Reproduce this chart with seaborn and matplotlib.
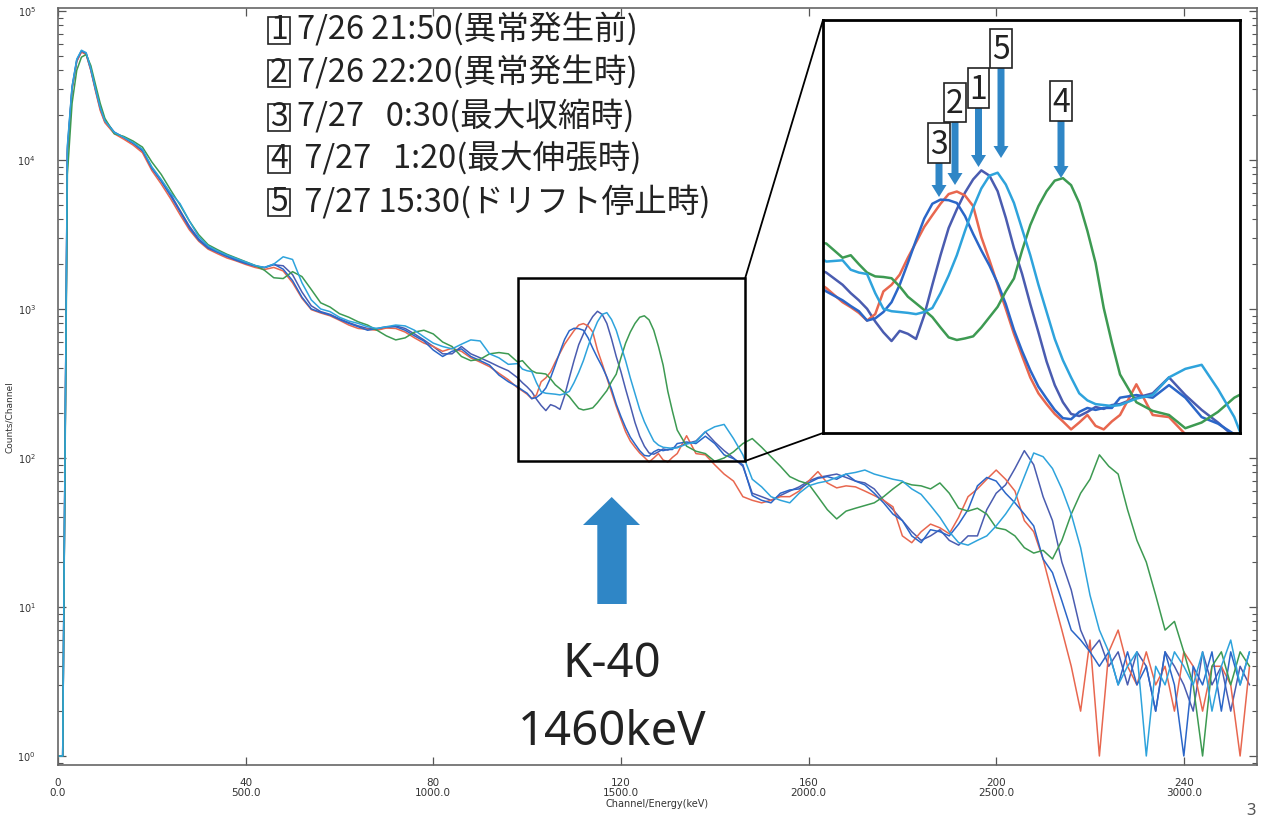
import matplotlib
matplotlib.use("Agg")
import matplotlib.pyplot as plt
import numpy as np
import pandas as pd
import seaborn as sns
from matplotlib.patches import ConnectionPatch, Polygon, Rectangle
from matplotlib.ticker import FixedLocator, LogLocator, NullFormatter, NullLocator

# channel grid the values were read at (1 ch = 12.5 keV); finer around the K-40 peak
channels = np.concatenate([np.arange(0, 11), np.arange(12, 99, 2),
                           np.arange(99, 132), np.arange(132, 255, 2)])

# 1: 7/26 21:50
counts_1 = [
    1, 1, 11000, 30000, 46000, 53500, 51500, 40000, 29500, 22000, 18000,
    15200, 14100, 12900, 11500, 8900, 7300, 5900, 4600, 3600, 2950, 2600, 2420, 2270, 2150, 2050, 1950, 1890,
    1980, 1950, 1700, 1300, 1050, 960, 920, 860,
    810, 770, 740, 730, 750, 770, 740, 680, 620, 560, 500, 500, 560, 500, 470, 440, 410, 385, 345,
    320, 300, 278, 248, 225, 208, 228, 222, 212, 262, 345, 450, 575, 680, 790, 890, 965, 920, 800, 630,
    480, 380, 290, 225, 173, 140, 120, 108, 106, 110, 115, 113, 117,
    118, 125, 130, 150, 128, 112, 100, 88,
    58, 55, 52, 56, 60, 64, 70, 74, 76, 78, 74, 70, 68, 62, 52, 45, 38, 32, 28, 30,
    33, 28, 26, 30, 30, 45, 58, 66, 85, 112, 90, 55, 38, 20, 13, 7, 5, 6, 4, 5,
    3, 5, 4, 2, 5, 4, 3, 2, 5, 3, 4, 2, 4, 3,
]
# 2: 7/26 22:20
counts_2 = [
    1, 1, 11500, 30000, 46000, 53000, 51000, 40000, 29000, 21500, 17800,
    15000, 13800, 12600, 11200, 8500, 6900, 5500, 4300, 3400, 2850, 2520, 2350, 2200, 2100, 1990, 1900, 1840,
    1900, 1800, 1500, 1180, 990, 940, 900, 840,
    780, 740, 730, 720, 745, 740, 700, 640, 590, 560, 520, 545, 520, 470, 440, 410, 370, 335, 295,
    282, 268, 250, 265, 325, 345, 378, 440, 505, 580, 645, 715, 780, 798, 770, 700, 530, 430, 345, 278,
    222, 182, 150, 130, 118, 108, 101, 94, 100, 107, 97, 94, 101,
    107, 141, 107, 105, 90, 78, 70, 55,
    52, 50, 52, 55, 55, 60, 70, 81, 68, 63, 65, 64, 60, 56, 52, 47, 30, 27, 32, 36,
    34, 31, 40, 55, 62, 72, 83, 72, 60, 38, 32, 21, 12, 7, 4, 2, 6, 1, 5, 7,
    4, 3, 5, 3, 4, 2, 5, 4, 2, 4, 4, 3, 1, 4,
]
# 3: 7/27 0:30
counts_3 = [
    1, 1, 12000, 31000, 47000, 54000, 52000, 41000, 30000, 22500, 18500,
    15400, 14200, 13000, 11600, 8800, 7200, 5750, 4500, 3500, 2900, 2560, 2400, 2250, 2120, 2020, 1940, 1900,
    2000, 1850, 1550, 1200, 1000, 950, 910, 850,
    800, 760, 720, 740, 760, 760, 720, 660, 610, 530, 480, 520, 540, 480, 450, 420, 360, 325, 300,
    285, 272, 250, 255, 270, 295, 345, 420, 515, 625, 715, 742, 738, 720, 640, 545, 470, 410, 350, 290,
    230, 190, 160, 138, 124, 112, 104, 103, 110, 114, 112, 114, 114,
    125, 128, 125, 140, 125, 105, 99, 90,
    56, 52, 50, 58, 61, 62, 68, 73, 75, 72, 78, 70, 66, 58, 50, 42, 38, 30, 27, 33,
    32, 30, 36, 45, 65, 74, 70, 58, 50, 42, 35, 21, 17, 11, 7, 6, 5, 4, 5, 3,
    5, 3, 4, 2, 5, 3, 1, 4, 3, 5, 2, 5, 3, 5,
]
# 4: 7/27 1:20
counts_4 = [
    1, 1, 8000, 24000, 40000, 49000, 51000, 43000, 32000, 24000, 19000,
    15000, 14400, 13400, 12200, 9700, 8000, 6300, 5000, 3900, 3150, 2700, 2500, 2330, 2200, 2080, 1960, 1820,
    1620, 1600, 1780, 1650, 1350, 1100, 1030, 930,
    880, 820, 780, 720, 660, 620, 640, 700, 720, 680, 600, 560, 480, 450, 460, 500, 510, 500, 440,
    450, 415, 385, 372, 370, 366, 340, 310, 292, 275, 258, 235, 215, 210, 213, 217, 235, 258, 283, 325,
    365, 470, 590, 700, 800, 880, 900, 845, 720, 560, 420, 280, 205,
    154, 120, 111, 107, 95, 100, 110, 125,
    135, 118, 102, 88, 75, 70, 67, 55, 45, 39, 44, 46, 48, 50, 55, 62, 69, 66, 65, 62,
    68, 58, 46, 44, 46, 42, 34, 33, 30, 25, 23, 24, 21, 28, 42, 58, 72, 105, 88, 78,
    45, 28, 20, 12, 7, 8, 5, 3, 1, 4, 5, 3, 5, 4,
]
# 5: 7/27 15:30
counts_5 = [
    1, 1, 12500, 31000, 47500, 54500, 52500, 41000, 30000, 22500, 18300,
    15300, 14200, 13100, 11800, 9000, 7400, 6000, 5100, 3900, 3050, 2650, 2450, 2300, 2180, 2070, 1960, 1900,
    2000, 2240, 2150, 1500, 1150, 1000, 960, 880,
    830, 800, 760, 740, 760, 780, 770, 720, 650, 590, 560, 540, 580, 620, 610, 500, 470, 425, 430,
    395, 385, 380, 320, 278, 272, 270, 268, 265, 270, 280, 320, 375, 450, 560, 690, 820, 920, 945, 850,
    720, 570, 450, 345, 270, 212, 175, 150, 130, 122, 118, 117, 116,
    117, 124, 128, 150, 162, 168, 135, 105,
    72, 64, 55, 52, 50, 58, 65, 68, 70, 74, 78, 80, 83, 78, 75, 72, 70, 62, 57, 48,
    40, 32, 27, 26, 28, 30, 35, 42, 52, 75, 108, 102, 85, 62, 42, 25, 12, 7, 5, 3,
    4, 5, 1, 4, 3, 5, 4, 3, 5, 2, 4, 6, 3, 5,
]

series_ids = ["1", "2", "3", "4", "5"]
legend_labels = [
    "7/26 21:50(異常発生前)",
    "7/26 22:20(異常発生時)",
    "7/27   0:30(最大収縮時)",
    " 7/27   1:20(最大伸張時)",
    " 7/27 15:30(ドリフト停止時)",
]
tick_channels = [0, 40, 80, 120, 160, 200, 240]
tick_energy = ["0.0", "500.0", "1000.0", "1500.0", "2000.0", "2500.0", "3000.0"]

palette = {"1": "#4a5cb0", "2": "#e8674f", "3": "#2b66c8", "4": "#3d9a52", "5": "#2ea3dc"}
ARROW_BLUE = "#2f86c6"

df = pd.concat(
    [pd.DataFrame({"channel": channels, "counts": c, "series": s})
     for s, c in zip(series_ids, [counts_1, counts_2, counts_3, counts_4, counts_5])],
    ignore_index=True,
)

sns.set_style("ticks")
plt.rcParams["font.family"] = ["Noto Sans CJK JP", "DejaVu Sans"]

W, H = 1261, 819
fig = plt.figure(figsize=(W / 100, H / 100), dpi=100)
fig.patch.set_facecolor("white")

# main spectrum axes
ax = fig.add_axes([58 / W, 1 - 765 / H, (1257 - 58) / W, (765 - 8) / H])
ax.set_yscale("log")
sns.lineplot(data=df, x="channel", y="counts", hue="series", palette=palette,
             estimator=None, sort=False, lw=1.1, legend=False, ax=ax)
ax.set_xlim(0, 255.6)
ax.set_ylim(0.87, 1.047e5)

ax.xaxis.set_major_locator(FixedLocator(tick_channels))
ax.set_xticklabels([f"{c}\n{e}" for c, e in zip(tick_channels, tick_energy)],
                   fontsize=7.5, family="DejaVu Sans", color="#333", linespacing=1.1)
ax.yaxis.set_major_locator(LogLocator(base=10, numticks=10))
ax.yaxis.set_minor_locator(LogLocator(base=10, subs=np.arange(2, 10), numticks=20))
ax.yaxis.set_minor_formatter(NullFormatter())
for lab in ax.get_yticklabels():
    lab.set_fontsize(7)
    lab.set_color("#333")
    lab.set_family("DejaVu Sans")
ax.tick_params(axis="both", which="both", direction="in", top=True, right=True, color="#555")
ax.tick_params(axis="both", which="major", length=6, width=0.9)
ax.tick_params(axis="both", which="minor", length=3.5, width=0.8)
ax.tick_params(axis="x", pad=9)
ax.tick_params(axis="y", labelsize=7, pad=16)
for sp in ax.spines.values():
    sp.set_color("#666")
    sp.set_linewidth(1.2)
ax.set_xlabel("Channel/Energy(keV)", fontsize=7, family="DejaVu Sans", color="#333")
ax.xaxis.set_label_coords(0.5, -0.045)
ax.set_ylabel("Counts/Channel", fontsize=6.5, family="DejaVu Sans", color="#333")
ax.yaxis.set_label_coords(-0.037, 0.46)

# zoom box on the K-40 region
zx0, zx1, zy0, zy1 = 98.1, 146.5, 95.5, 1615
ax.add_patch(Rectangle((zx0, zy0), zx1 - zx0, zy1 - zy0, fill=False, ec="black", lw=1.8, zorder=4))

# inset
ins = fig.add_axes([823 / W, 1 - 433 / H, 417 / W, 413 / H])
ins.set_zorder(3)
ins.set_yscale("log")
sns.lineplot(data=df, x="channel", y="counts", hue="series", palette=palette,
             estimator=None, sort=False, lw=1.8, legend=False, ax=ins)
ins.set_xlim(95.6, 146.7)
ins.set_ylim(91, 3730)
ins.set_xticks([])
ins.set_yticks([])
ins.yaxis.set_minor_locator(NullLocator())
ins.set_xlabel("")
ins.set_ylabel("")
for sp in ins.spines.values():
    sp.set_color("black")
    sp.set_linewidth(2)

for xy_a, xy_b in [((zx1, zy1), (0, 1)), ((zx1, zy0), (0, 0))]:
    con = ConnectionPatch(xyA=xy_a, coordsA=ax.transData, xyB=xy_b, coordsB=ins.transAxes,
                          color="black", lw=1.3)
    fig.add_artist(con)

# overlay in pixel coordinates for the annotations
ov = fig.add_axes([0, 0, 1, 1])
ov.set_xlim(0, W)
ov.set_ylim(H, 0)
ov.axis("off")
ov.patch.set_visible(False)
ov.set_zorder(10)


def down_arrow(x, top, tip, shaft=7, head=15, head_len=12):
    pts = [(x - shaft / 2, top), (x + shaft / 2, top), (x + shaft / 2, tip - head_len),
           (x + head / 2, tip - head_len), (x, tip), (x - head / 2, tip - head_len),
           (x - shaft / 2, tip - head_len)]
    ov.add_patch(Polygon(pts, closed=True, fc=ARROW_BLUE, ec="none"))


# legend block
row_centers = [30, 73.5, 117, 159, 202]
for sid, label, yc in zip(series_ids, legend_labels, row_centers):
    ov.add_patch(Rectangle((268, yc - 13.5), 22, 27, fill=False, ec="#222", lw=1.2))
    ov.text(279, yc + 9, sid, ha="center", va="baseline", fontsize=23, color="#222")
    ov.text(297, yc + 9, label, ha="left", va="baseline", fontsize=23.5, color="#222")

# numbered boxes + arrows inside the inset
inset_marks = [
    ("3", (928, 123, 950, 163), 197),
    ("2", (944, 83, 966, 122), 185),
    ("1", (968, 68, 989, 108), 167),
    ("5", (990, 29, 1012, 68), 158),
    ("4", (1050, 81, 1072, 121), 178),
]
for sid, (bx0, by0, bx1, by1), tip in inset_marks:
    down_arrow((bx0 + bx1) / 2, by1, tip)
    ov.add_patch(Rectangle((bx0, by0), bx1 - bx0, by1 - by0, fc="white", ec="#222", lw=1.2))
    ov.text((bx0 + bx1) / 2, by1 - 9, sid, ha="center", va="baseline", fontsize=23, color="#222")

# K-40 marker
ov.add_patch(Polygon([(597.3, 604), (626.7, 604), (626.7, 525), (640, 525), (611.7, 497),
                      (583, 525), (597.3, 525)], closed=True, fc=ARROW_BLUE, ec="none"))
ov.text(612, 677, "K-40", ha="center", va="baseline", fontsize=34,
        family=["Noto Sans", "DejaVu Sans"], color="#222")
ov.text(612, 745, "1460keV", ha="center", va="baseline", fontsize=34,
        family=["Noto Sans", "DejaVu Sans"], color="#222")

ov.text(1251, 815, "3", ha="center", va="baseline", fontsize=12,
        family=["Noto Sans", "DejaVu Sans"], color="#555")

fig.savefig("out.png", dpi=100, facecolor="white")
